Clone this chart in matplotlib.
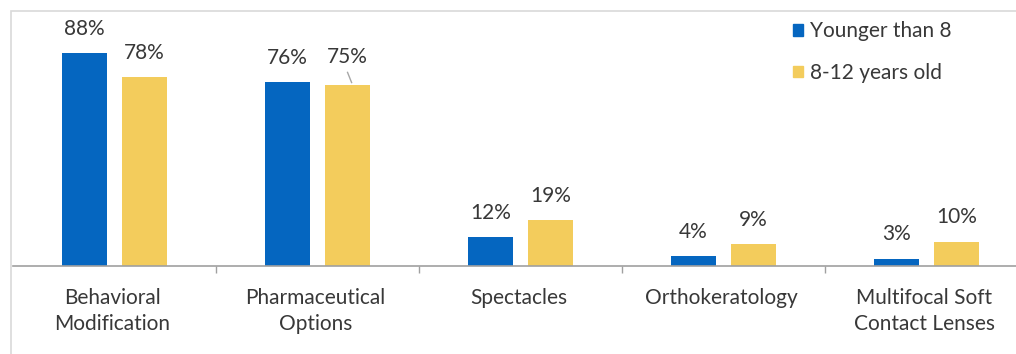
import matplotlib
matplotlib.use("Agg")
import matplotlib.pyplot as plt
from matplotlib.patches import Rectangle, Patch
import numpy as np

categories = ["Behavioral\nModification", "Pharmaceutical\nOptions", "Spectacles",
              "Orthokeratology", "Multifocal Soft\nContact Lenses"]
younger_than_8 = [88, 76, 12, 4, 3]
age_8_to_12 = [78, 75, 19, 9, 10]
series_names = ["Younger than 8", "8-12 years old"]

BLUE = "#0566C0"
YELLOW = "#F3CC5C"
TEXT = "#383838"
AXIS = "#A0A0A0"
FS = 15

plt.rcParams["font.family"] = ["Lato", "DejaVu Sans"]

W, H = 1016, 354
fig = plt.figure(figsize=(W / 100, H / 100), dpi=100)

# outer chart frame (runs off the right and bottom edges)
fig.patches.append(Rectangle((11 / W, -0.1), 1.2, (H - 11) / H + 0.1,
                             transform=fig.transFigure, fill=False,
                             edgecolor="#D9D9D9", linewidth=1.2))

# plot area: 0..100% spans 242 px, five category slots of 203 px
left_px, base_px, slot_px = 13, 266, 203
ax = fig.add_axes([left_px / W, (H - base_px) / H, 5 * slot_px / W, 242 / H])
ax.set_xlim(-0.5, 4.5)
ax.set_ylim(0, 100)
ax.patch.set_alpha(0)

x = np.arange(len(categories))
off, bw = 0.148, 0.222
b1 = ax.bar(x - off, younger_than_8, bw, color=BLUE, label=series_names[0])
b2 = ax.bar(x + off, age_8_to_12, bw, color=YELLOW, label=series_names[1])

for s in ["top", "right", "left"]:
    ax.spines[s].set_visible(False)
ax.spines["bottom"].set_color(AXIS)
ax.spines["bottom"].set_linewidth(1.2)
ax.set_yticks([])
ax.set_xticks(np.arange(0.5, 4.5, 1.0))
ax.set_xticklabels([])
ax.tick_params(axis="x", direction="out", length=5, color=AXIS, width=1)

for xi, lab in zip(x, categories):
    ax.annotate(lab, (xi - 0.01, 0), xytext=(0, -16), textcoords="offset points",
                ha="center", va="top", fontsize=FS, color=TEXT, linespacing=1.38)

for bars, vals, sign in [(b1, younger_than_8, -1), (b2, age_8_to_12, 1)]:
    for xi, v in zip(x, vals):
        xc = xi + sign * off
        dy = 17.5
        if sign == 1 and xi == 1:
            dy = 20
            ax.plot([xc + 0.02, xc], [v + 0.8, v + 5], color="#A6A6A6", lw=1)
        ax.annotate(f"{v}%", (xc, v), xytext=(0, dy), textcoords="offset points",
                    ha="center", va="center", fontsize=FS, color=TEXT)

handles = [Patch(color=BLUE), Patch(color=YELLOW)]
fig.legend(handles, series_names, loc="center left",
           bbox_to_anchor=(774 / W, 1 - 52 / H), frameon=False,
           fontsize=FS, labelcolor=TEXT, handlelength=0.5, handleheight=0.5,
           handletextpad=0.35, labelspacing=1.05)

fig.savefig("out.png", dpi=100)
